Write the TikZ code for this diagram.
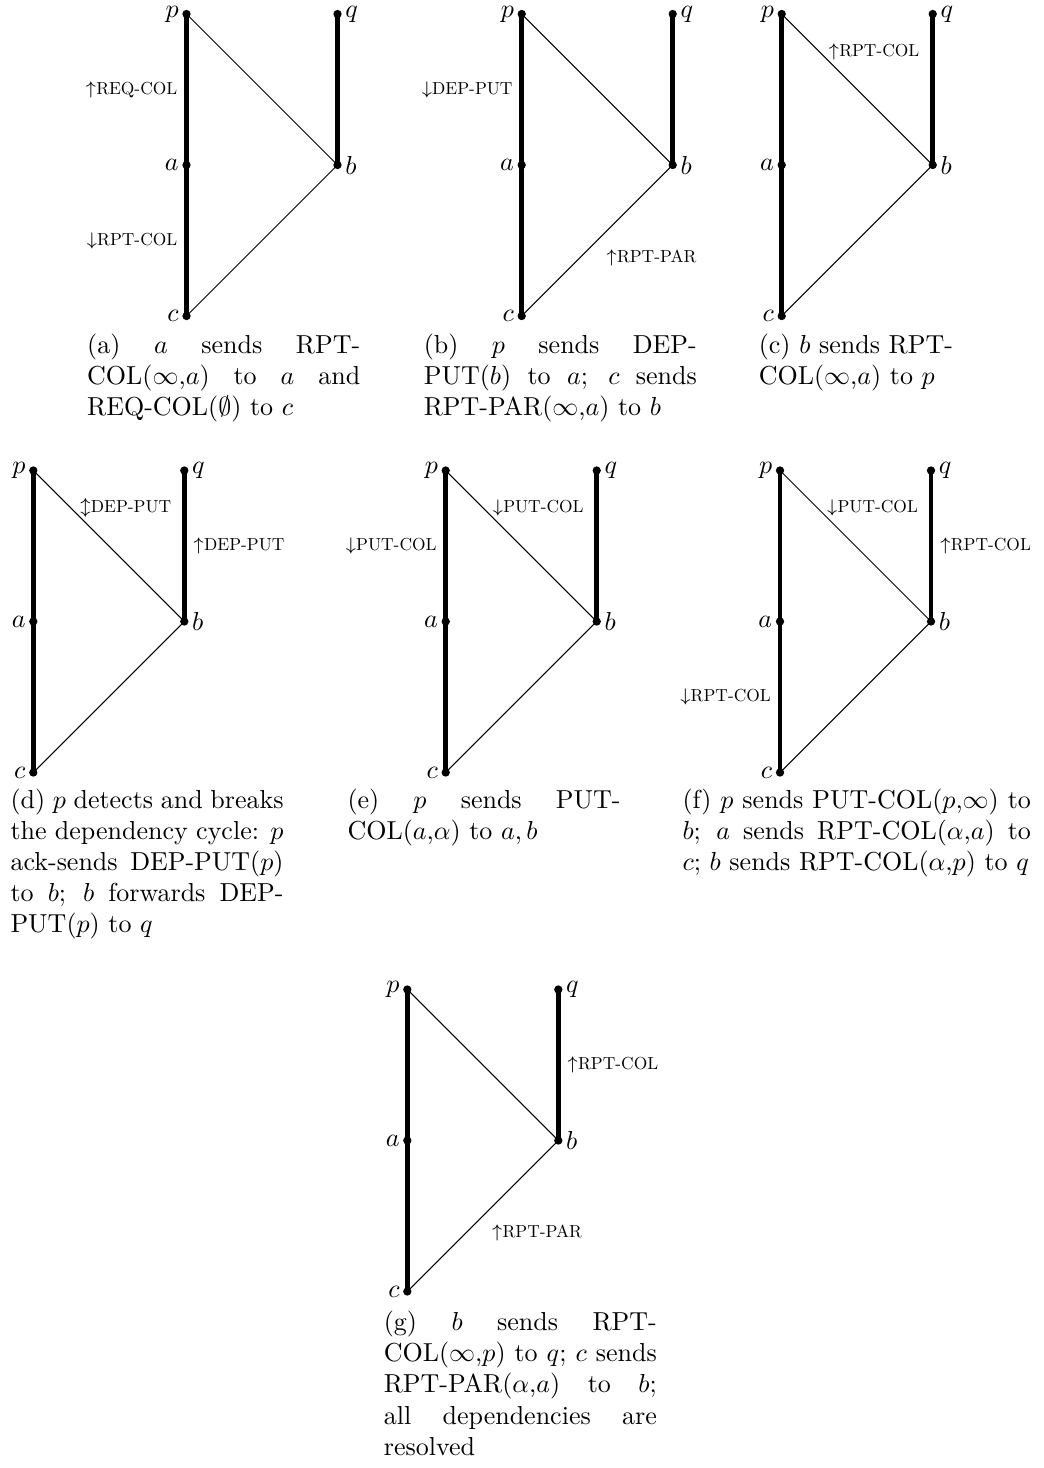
\documentclass[tikz,border=0pt]{standalone}
\DeclareFontFamily{TU}{lmrten}{}
\DeclareFontShape{TU}{lmrten}{m}{n}{<-> "[lmroman10-regular]:+tlig;"}{}
\newcommand\lblfont{\fontfamily{lmrten}\fontsize{6.7}{8}\selectfont}
\newcommand\drawpanel[3]{%
  \node[dot,label={[lbl]left:$p$}] (#1p) at (#2,#3) {};
  \node[dot,label={[lbl]right:$q$}] (#1q) at ({#2+151},#3) {};
  \node[dot,label={[lbl]left:$a$}] (#1a) at (#2,{#3+151}) {};
  \node[dot,label={[lbl]right:$b$}] (#1b) at ({#2+151},{#3+151}) {};
  \node[dot,label={[lbl]left:$c$}] (#1c) at (#2,{#3+302}) {};
  \draw[heavy] (#1p.center) -- (#1a.center) -- (#1c.center);
  \draw[heavy] (#1q.center) -- (#1b.center);
  \draw[light] (#1p.center) -- (#1b.center) -- (#1c.center);
}
\begin{document}
\begin{tikzpicture}[x=0.3846pt,y=-0.3846pt,
  dot/.style={circle,fill=black,inner sep=0pt,minimum size=3.2pt},
  heavy/.style={line width=1.8pt},
  light/.style={line width=0.4pt},
  lbl/.style={inner sep=1pt},
  label distance=0pt,
  msg/.style={font=\lblfont},
  captxt/.style={anchor=north west,inner sep=0pt,text width=105pt,align=justify,font=\fontsize{10}{12}\selectfont},
  capfree/.style={anchor=north west,inner sep=0pt,align=left,font=\fontsize{10}{12}\selectfont}]
\useasboundingbox (0,0) rectangle (1043,1468);

% (a)
\drawpanel{A}{186.5}{14}
\path (Ap.center) -- node[msg,left]{$\uparrow$REQ-COL} (Aa.center);
\path (Aa.center) -- node[msg,left]{$\downarrow$RPT-COL} (Ac.center);
\node[captxt] (capA) at (86.7,333) {(a) $a$ sends RPT-\linebreak COL($\infty$,$a$) to $a$ and\linebreak REQ-COL($\emptyset$) to $c$};

% (b)
\drawpanel{B}{521.7}{14}
\path (Bp.center) -- node[msg,left]{$\downarrow$DEP-PUT} (Ba.center);
\path (Bc.center) -- node[msg,below right]{$\uparrow$RPT-PAR} (Bb.center);
\node[captxt] (capB) at (423.3,333) {(b) $p$ sends DEP-\linebreak PUT($b$) to $a$; $c$ sends\linebreak RPT-PAR($\infty$,$a$) to $b$};

% (c)
\drawpanel{C}{781.7}{14}
\path (Cp.center) -- node[msg,right,pos=0.25]{$\uparrow$RPT-COL} (Cb.center);
\node[capfree] (capC) at (758.3,333) {(c) $b$ sends RPT-\\COL($\infty$,$a$) to $p$};

% (d)
\drawpanel{D}{33.3}{470.5}
\path (Dp.center) -- node[msg,right,pos=0.25]{$\updownarrow$DEP-PUT} (Db.center);
\path (Dq.center) -- node[msg,right]{$\uparrow$DEP-PUT} (Db.center);
\node[captxt] (capD) at (10,788) {(d) $p$ detects and breaks\linebreak the dependency cycle: $p$\linebreak ack-sends DEP-PUT($p$)\linebreak to $b$; $b$ forwards DEP-\linebreak PUT($p$) to $q$};

% (e)
\drawpanel{E}{445.7}{470.5}
\path (Ep.center) -- node[msg,right,pos=0.25]{$\downarrow$PUT-COL} (Eb.center);
\path (Ep.center) -- node[msg,left]{$\downarrow$PUT-COL} (Ea.center);
\node[captxt] (capE) at (347,788) {(e) $p$ sends PUT-\linebreak COL($a$,$\alpha$) to $a, b$};

% (f)
\drawpanel{F}{780}{470.5}
\path (Fp.center) -- node[msg,right,pos=0.25]{$\downarrow$PUT-COL} (Fb.center);
\path (Fq.center) -- node[msg,right]{$\uparrow$RPT-COL} (Fb.center);
\path (Fa.center) -- node[msg,left]{$\downarrow$RPT-COL} (Fc.center);
\node[captxt,text width=134pt] (capF) at (682,788) {(f) $p$ sends PUT-COL($p$,$\infty$) to\linebreak $b$; $a$ sends RPT-COL($\alpha$,$a$) to\linebreak $c$; $b$ sends RPT-COL($\alpha$,$p$) to $q$};

% (g)
\drawpanel{G}{407.3}{989.5}
\path (Gq.center) -- node[msg,right]{$\uparrow$RPT-COL} (Gb.center);
\path (Gc.center) -- node[msg,below right]{$\uparrow$RPT-PAR} (Gb.center);
\node[captxt] (capG) at (383.3,1310.5) {(g) $b$ sends RPT-\linebreak COL($\infty$,$p$) to $q$; $c$ sends\linebreak RPT-PAR($\alpha$,$a$) to $b$;\linebreak all dependencies are\linebreak resolved};
\end{tikzpicture}
\end{document}
